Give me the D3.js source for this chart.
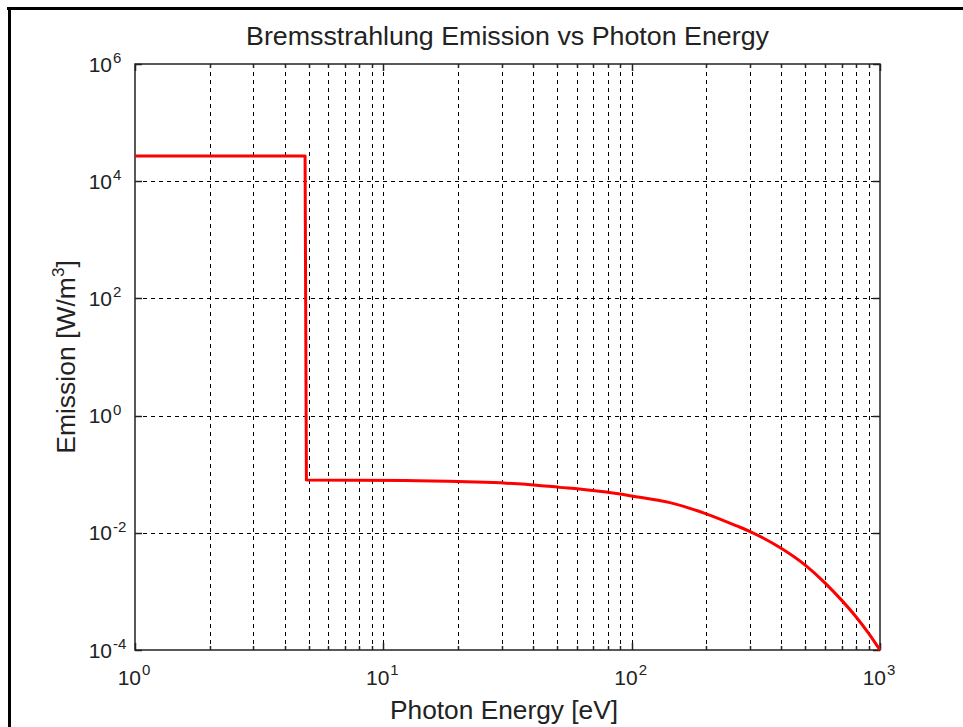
<!DOCTYPE html>
<html>
<head>
<meta charset="utf-8">
<script src="https://cdn.jsdelivr.net/npm/d3@7"></script>
<style>
  body { margin: 0; background: #fff; }
  text { font-family: "Liberation Sans", Arial, sans-serif; fill: #222; }
</style>
</head>
<body>
<div id="chart-area"></div>
<script>
// values
var energy   = [1, 4.84, 4.90, 12.2, 21.6, 31.3, 41.3, 51.2, 61.5, 79, 100,
                142.6, 197, 265, 300, 400, 500, 600, 700, 800, 900, 1000];
var emission = [2.7e4, 2.7e4, 0.0796, 0.078, 0.074, 0.0702, 0.0649, 0.0596, 0.056, 0.0495, 0.0425,
                0.0327, 0.0215, 0.0131, 0.0105, 0.00543, 0.0028, 0.0014,
                7.1e-4, 3.7e-4, 1.93e-4, 1e-4];
var xTickExp = [0, 1, 2, 3];
var yTickExp = [-4, -2, 0, 2, 4, 6];

var canvasWidth = 963;
var canvasHeight = 727;
var plot = { left: 135, right: 880, top: 64, bottom: 650 };

var svg = d3.select("#chart-area")
    .append("svg")
        .attr("width", canvasWidth)
        .attr("height", canvasHeight);

// figure frame (only top/left edges visible in the crop)
svg.append("line").attr("x1", 7).attr("x2", canvasWidth).attr("y1", 8.5).attr("y2", 8.5)
    .attr("stroke", "#000").attr("stroke-width", 3);
svg.append("line").attr("x1", 9.5).attr("x2", 9.5).attr("y1", 7).attr("y2", canvasHeight)
    .attr("stroke", "#000").attr("stroke-width", 3);

var x = d3.scaleLog()
    .domain([1, 1000])
    .range([plot.left, plot.right]);

var y = d3.scaleLog()
    .domain([1e-4, 1e6])
    .range([plot.bottom, plot.top]);

// minor x values 2..9 per decade
var xMinor = [];
xTickExp.slice(0, -1).forEach(e => {
    for (var k = 2; k <= 9; k++) xMinor.push(k * Math.pow(10, e));
});
var xAll = xTickExp.map(e => Math.pow(10, e)).concat(xMinor);
var yMajor = yTickExp.map(e => Math.pow(10, e));

// grid
var grid = svg.append("g")
    .attr("stroke", "#000")
    .attr("stroke-width", 1)
    .attr("stroke-dasharray", "4,4");

grid.selectAll(".vgrid")
    .data(xAll.filter(v => v > 1 && v < 1000))
    .enter().append("line")
        .attr("x1", d => Math.round(x(d)) + 0.5)
        .attr("x2", d => Math.round(x(d)) + 0.5)
        .attr("y1", plot.top)
        .attr("y2", plot.bottom);

grid.selectAll(".hgrid")
    .data(yMajor.filter(v => v > 1e-4 && v < 1e6))
    .enter().append("line")
        .attr("x1", plot.left)
        .attr("x2", plot.right)
        .attr("y1", d => Math.round(y(d)) + 0.5)
        .attr("y2", d => Math.round(y(d)) + 0.5);

// tick marks (inward, on all four sides)
var ticks = svg.append("g").attr("stroke", "#222").attr("stroke-width", 1.5);
xAll.forEach(v => {
    var len = xMinor.indexOf(v) >= 0 ? 4 : 7;
    var px = Math.round(x(v)) + 0.5;
    ticks.append("line").attr("x1", px).attr("x2", px).attr("y1", plot.bottom).attr("y2", plot.bottom - len);
    ticks.append("line").attr("x1", px).attr("x2", px).attr("y1", plot.top).attr("y2", plot.top + len);
});
yMajor.forEach(v => {
    var py = Math.round(y(v)) + 0.5;
    ticks.append("line").attr("x1", plot.left).attr("x2", plot.left + 7).attr("y1", py).attr("y2", py);
    ticks.append("line").attr("x1", plot.right).attr("x2", plot.right - 7).attr("y1", py).attr("y2", py);
});

// axes box
svg.append("rect")
    .attr("x", plot.left)
    .attr("y", plot.top)
    .attr("width", plot.right - plot.left)
    .attr("height", plot.bottom - plot.top)
    .attr("fill", "none")
    .attr("stroke", "#222")
    .attr("stroke-width", 1.5);

// data line
var line = d3.line()
    .x((d, i) => x(energy[i]))
    .y(d => y(d))
    .curve(d3.curveMonotoneX);

svg.append("path")
    .datum(emission)
    .attr("d", line)
    .attr("fill", "none")
    .attr("stroke", "#ff0000")
    .attr("stroke-width", 3)
    .attr("stroke-linejoin", "round");

// x tick labels
xTickExp.forEach(e => {
    var px = x(Math.pow(10, e));
    svg.append("text").attr("x", px + 6).attr("y", 685)
        .attr("font-size", "21px").attr("text-anchor", "end").text("10");
    svg.append("text").attr("x", px + 7).attr("y", 675)
        .attr("font-size", "15px").text(e);
});

// y tick labels
yTickExp.forEach(e => {
    var py = y(Math.pow(10, e));
    svg.append("text").attr("x", 112).attr("y", py + 7.5)
        .attr("font-size", "21px").attr("text-anchor", "end").text("10");
    svg.append("text").attr("x", 113).attr("y", py - 1)
        .attr("font-size", "15px").text(e);
});

// title
svg.append("text")
    .attr("x", (plot.left + plot.right) / 2)
    .attr("y", 45)
    .attr("font-size", "25px")
    .attr("text-anchor", "middle")
    .attr("textLength", 523)
    .attr("lengthAdjust", "spacingAndGlyphs")
    .text("Bremsstrahlung Emission vs Photon Energy");

// X label
svg.append("text")
    .attr("x", 504)
    .attr("y", 719)
    .attr("font-size", "25px")
    .attr("text-anchor", "middle")
    .attr("textLength", 228)
    .attr("lengthAdjust", "spacingAndGlyphs")
    .text("Photon Energy [eV]");

// Y label
var yl = svg.append("text")
    .attr("x", -(plot.top + plot.bottom) / 2)
    .attr("y", 75)
    .attr("font-size", "26.5px")
    .attr("text-anchor", "middle")
    .attr("transform", "rotate(-90)");
yl.append("tspan").text("Emission [W/m");
yl.append("tspan").attr("font-size", "17px").attr("dy", -11).text("3");
yl.append("tspan").attr("dy", 11).text("]");
</script>
</body>
</html>
